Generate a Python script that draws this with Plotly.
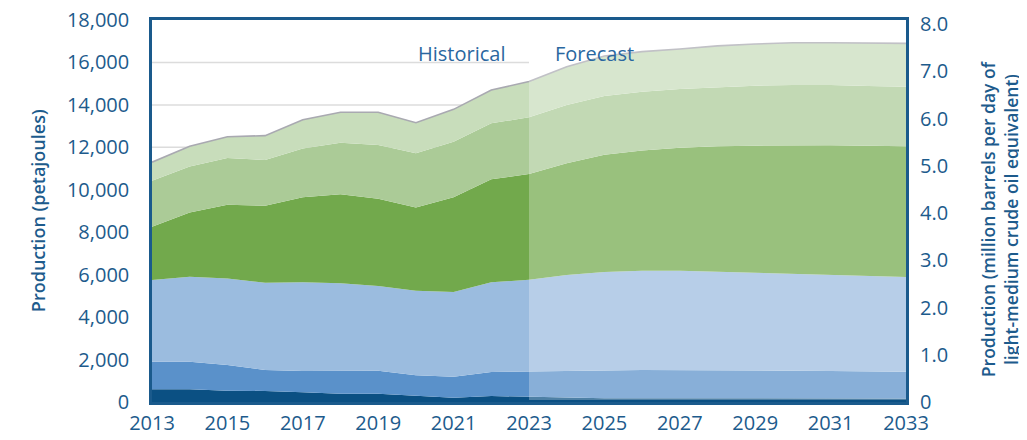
import plotly.graph_objects as go

years = list(range(2013, 2034))
forecast_start = 2023

# Stacked layers (petajoules), bottom to top
coal = [600, 600, 535, 520, 455, 390, 390, 300, 205, 280, 235, 200, 180, 180, 180, 175, 175, 175, 170, 170, 170]
crude_oil = [1300, 1300, 1210, 990, 1005, 1085, 1085, 955, 990, 1135, 1195, 1240, 1310, 1330, 1330, 1325, 1300, 1300, 1290, 1260, 1260]
natural_gas = [3850, 4005, 4080, 4110, 4180, 4115, 3990, 3990, 3990, 4225, 4330, 4545, 4635, 4680, 4680, 4640, 4620, 4555, 4525, 4505, 4460]
in_situ_bitumen = [2510, 3025, 3475, 3630, 4010, 4195, 4115, 3920, 4465, 4855, 4980, 5265, 5525, 5660, 5790, 5910, 5985, 6070, 6115, 6145, 6160]
mined_bitumen = [2170, 2170, 2200, 2150, 2300, 2435, 2530, 2555, 2615, 2635, 2680, 2745, 2770, 2770, 2770, 2790, 2825, 2835, 2835, 2810, 2810]
ngl = [870, 950, 1000, 1150, 1350, 1430, 1540, 1440, 1525, 1570, 1680, 1805, 1885, 1890, 1885, 1940, 1965, 1995, 1995, 2025, 2040]

series_names = ["Coal", "Conventional crude oil", "Marketable natural gas",
                "In situ bitumen", "Mined bitumen", "Natural gas liquids"]
series_values = [coal, crude_oil, natural_gas, in_situ_bitumen, mined_bitumen, ngl]
series_colors = ["#0b5083", "#5a91ca", "#9bbcdf", "#72a94c", "#abcb97", "#c8ddbb"]

left_ticks = list(range(0, 18001, 2000))
right_ticks = [0, 1, 2, 3, 4, 5, 6, 7, 8]
right_ticktext = ["0"] + [f"{v:.1f}" for v in right_ticks[1:]]
PJ_PER_MBD = 2225.0
y_max = 18000

left_title = "Production (petajoules)"
right_title = "Production (million barrels per day of<br>light-medium crude oil equivalent)"

txt = "#1d5b8c"
font_family = "'Open Sans', sans-serif"

fig = go.Figure()
n = len(series_values)
for i, (name, vals, col) in enumerate(zip(series_names, series_values, series_colors)):
    top = (i == n - 1)
    fig.add_trace(go.Scatter(
        x=years, y=vals, name=name, stackgroup="one", mode="lines",
        fillcolor=col,
        line=dict(color="#a9a9b1" if top else col, width=1.6 if top else 0),
        showlegend=False,
    ))

totals = [sum(v[k] for v in series_values) for k in range(len(years))]
fig.add_trace(go.Scatter(
    x=years, y=[t / PJ_PER_MBD for t in totals], yaxis="y2", mode="lines",
    line=dict(width=0, color="rgba(0,0,0,0)"), showlegend=False, hoverinfo="skip",
))

# gridlines only in historical period
for v in left_ticks[1:-1]:
    fig.add_shape(type="line", xref="x", yref="y", x0=years[0], x1=forecast_start,
                  y0=v, y1=v, line=dict(color="#dcdcdc", width=1.5), layer="below")

# forecast overlay
fig.add_shape(type="rect", xref="x", yref="paper", x0=forecast_start, x1=years[-1],
              y0=0.005, y1=1, fillcolor="rgba(255,255,255,0.28)", line=dict(width=0),
              layer="above")

fig.add_annotation(x=forecast_start, y=0.953, xref="x", yref="paper", text="Historical",
                   showarrow=False, xanchor="right", xshift=-22,
                   font=dict(size=20, color="#2a67a0", family=font_family))
fig.add_annotation(x=forecast_start, y=0.953, xref="x", yref="paper", text="Forecast",
                   showarrow=False, xanchor="left", xshift=24,
                   font=dict(size=20, color="#2a67a0", family=font_family))

# axis titles
fig.add_annotation(x=-0.151, y=0.5, xref="paper", yref="paper", text=left_title,
                   textangle=-90, showarrow=False, xanchor="center", yanchor="middle",
                   font=dict(size=18, color=txt, family=font_family, weight=600))
fig.add_annotation(x=1.124, y=0.48, xref="paper", yref="paper", text=right_title,
                   textangle=-90, showarrow=False, xanchor="center", yanchor="middle",
                   font=dict(size=17.5, color=txt, family=font_family, weight=600))

fig.update_layout(
    width=1019, height=432,
    margin=dict(l=144, r=121, t=12, b=38, autoexpand=False),
    paper_bgcolor="white", plot_bgcolor="white",
    font=dict(family=font_family, color=txt, size=20),
    xaxis=dict(range=[years[0], years[-1]], tickvals=years[::2], showgrid=False,
               showline=True, linecolor="#1a5a8c", linewidth=2.5, mirror=True,
               ticks="", ticklabelstandoff=1, tickfont=dict(size=20, color=txt),
               zeroline=False, automargin=False, ticklabeloverflow="allow"),
    yaxis=dict(range=[0, y_max], tickvals=left_ticks, tickformat=",d", showgrid=False,
               showline=True, linecolor="#1a5a8c", linewidth=2.5, mirror=True,
               ticks="", ticklabelstandoff=16, tickfont=dict(size=20, color=txt),
               zeroline=False, automargin=False, ticklabeloverflow="allow"),
    yaxis2=dict(range=[0, y_max / PJ_PER_MBD], overlaying="y", side="right",
                tickvals=right_ticks, ticktext=right_ticktext, showgrid=False,
                ticks="", ticklabelstandoff=13, tickfont=dict(size=20, color=txt),
                zeroline=False, automargin=False, ticklabeloverflow="allow"),
)

fig.write_html("out.html")
